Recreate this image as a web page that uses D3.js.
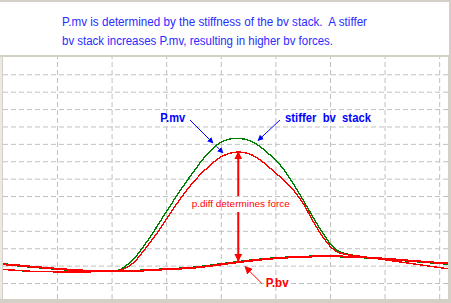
<!DOCTYPE html>
<html><head><meta charset="utf-8">
<script src="https://cdn.jsdelivr.net/npm/d3@7/dist/d3.min.js"></script>
<style>body{margin:0;background:#d4d0c8;overflow:hidden} text{white-space:pre}</style>
</head><body>
<script>
// ---- data (time ms, pressure) ----
const titleLines = ["P.mv is determined by the stiffness of the bv stack.  A stiffer",
                    "bv stack increases P.mv, resulting in higher bv forces."];
const xTicks = [50,100,150,200,250,300,350,400];
const yTicks = [10,20,30,40,50,60,70,80,90,100,110,120,130];

// stiffer bv stack: P.mv (green)
const stiffMv = [[0,17.8],[12,17.3],[26,16.6],[49,16.4],[76,16.4],[103,16.6],[108,17.5],[114,20.4],[120,23.2],[129,30.7],[138,38.8],[147,48.0],[156,56.6],[165,65.3],[175,73.9],[181,79.1],[187,83.8],[193,87.8],[199,90.8],[207,92.8],[214,93.4],[222,92.9],[230,91.0],[236,88.6],[241,85.9],[250,81.0],[257,76.1],[263,70.4],[270,63.5],[277,56.0],[286,46.1],[295,36.9],[303,30.2],[309,27.6],[316,26.5],[328,25.3],[346,23.8],[364,22.1],[387,20.1],[408,18.2]];
// P.mv (red)
const pMv = [[0,17.8],[16,17.2],[30,16.5],[53,16.4],[80,16.4],[106,16.6],[110,17.9],[117,19.8],[123,23.2],[132,30.7],[142,38.8],[151,47.4],[160,56.0],[169,63.6],[178,70.4],[186,75.3],[193,79.3],[199,82.3],[207,84.6],[216,85.6],[225,84.8],[233,82.3],[240,78.9],[247,75.0],[256,70.2],[265,64.8],[272,59.0],[277,54.4],[284,45.8],[293,36.6],[302,29.4],[309,27.0],[316,26.2],[328,25.3],[346,23.8],[364,22.1],[387,20.1],[408,18.2]];
// P.bv (red) and stiffer-stack P.bv (green)
const pBv = [[0,20.8],[16,20.1],[30,19.2],[44,18.5],[62,17.6],[80,16.9],[98,16.6],[117,16.6],[135,17.5],[163,18.2],[181,19.0],[199,20.6],[218,22.1],[236,23.5],[254,24.4],[272,25.1],[300,25.5],[327,25.0],[355,23.8],[382,22.4],[408,21.2]];
const stiffBv = [[0,21.0],[13,20.1],[27,19.2],[41,18.5],[59,17.6],[77,16.9],[95,16.6],[114,16.6],[132,17.5],[160,18.2],[178,19.0],[196,20.6],[215,22.1],[233,23.5],[251,24.4],[269,25.1],[297,25.5],[324,25.0],[352,23.8],[379,22.4],[408,21.0]];

// annotations (data coords)
const lblPmv = {t:144.5, p:102.6, text:"P.mv"};
const lblStiff = {t:258.8, p:102.6, text:"stiffer  bv  stack"};
const lblDiff = {t:173.4, p:53.7, text:"p.diff determines force"};
const lblPbv = {t:241.1, p:7.7, text:"P.bv"};

const W=451, H=303;
const svg = d3.select("body").append("svg").attr("width",W).attr("height",H);
svg.append("rect").attr("width",W).attr("height",H).attr("fill","#d4d0c8");
// top text panel
svg.append("rect").attr("x",0).attr("y",2).attr("width",449).attr("height",53).attr("fill","#fff");
// chart panel
const L=3,R=448,T=57,B=299;
svg.append("rect").attr("x",0).attr("y",T).attr("width",2).attr("height",B-T).attr("fill","#ebe9e4");
svg.append("rect").attr("x",L).attr("y",T).attr("width",R-L).attr("height",B-T).attr("fill","#fff");

svg.selectAll("text.title").data(titleLines).enter().append("text")
  .attr("class","title")
  .attr("x",62).attr("y",(d,i)=>26+i*18.5)
  .attr("font-family","Liberation Sans, Arial, sans-serif").attr("font-size",12)
  .attr("fill","#2b2bff")
  .attr("textLength",(d,i)=>i===0?305:271).attr("lengthAdjust","spacingAndGlyphs")
  .text(d=>d);

const x = d3.scaleLinear().domain([0,408]).range([2.4,447.9]);
const y = d3.scaleLinear().domain([0,140]).range([300.4,56.9]);

svg.append("defs").append("clipPath").attr("id","clip").append("rect")
  .attr("x",L).attr("y",T).attr("width",R-L).attr("height",B-T);
const g = svg.append("g").attr("clip-path","url(#clip)");

// grid through axes
const gx = g.append("g").attr("transform",`translate(0,${B})`)
  .call(d3.axisBottom(x).tickValues(xTicks).tickSize(-(B-T)).tickFormat(""));
const gy = g.append("g").attr("transform",`translate(${L},0)`)
  .call(d3.axisLeft(y).tickValues(yTicks).tickSize(-(R-L)).tickFormat(""));
[gx,gy].forEach(a=>{
  a.select(".domain").remove();
  a.selectAll("line").attr("stroke","#c0c0c0").attr("stroke-dasharray","5,3");
});

const line = d3.line().x(d=>x(d[0])).y(d=>y(d[1])).curve(d3.curveBasis);
function draw(data,color,w){
  g.append("path").datum(data).attr("d",line).attr("fill","none")
   .attr("stroke",color).attr("stroke-width",w).attr("shape-rendering","crispEdges");
}
draw(stiffBv,"#008000",2);
draw(stiffMv,"#008000",1.4);
draw(pMv,"#ff0000",1.4);
draw(pBv,"#ff0000",2);

// markers
const defs = svg.select("defs");
function marker(id,color,w,h){
  defs.append("marker").attr("id",id).attr("viewBox","0 0 10 10")
    .attr("refX",9).attr("refY",5).attr("markerUnits","userSpaceOnUse")
    .attr("markerWidth",w).attr("markerHeight",h).attr("orient","auto-start-reverse")
    .append("path").attr("d","M0,0L10,5L0,10z").attr("fill",color);
}
marker("ab","#0000ff",6,6);
marker("ar","#ff0000",8,8);

function arrow(a,b,color,w,mk,start){
  const p = svg.append("line").attr("x1",x(a[0])).attr("y1",y(a[1]))
    .attr("x2",x(b[0])).attr("y2",y(b[1])).attr("stroke",color).attr("stroke-width",w);
  if(start) p.attr("marker-start",`url(#${mk})`); else p.attr("marker-end",`url(#${mk})`);
  return p;
}
// blue arrows
arrow([171.8,103.7],[192.9,90.5],"#0000ff",1,"ab");
arrow([196.1,88.6],[202.0,84.8],"#0000ff",1,"ab");
arrow([254.2,103.7],[234.1,91.9],"#0000ff",1,"ab");
// red double arrow
arrow([216.0,85.3],[216.0,60.0],"#ff0000",2,"ar",true);
arrow([216.0,50.8],[216.0,22.7],"#ff0000",2,"ar");
// P.bv arrow
arrow([237.5,9.8],[222.2,19.4],"#ff0000",1,"ar");

function label(o,color,size,weight,len){
  svg.append("text").attr("x",x(o.t)).attr("y",y(o.p))
   .attr("font-family","Liberation Sans, Arial, sans-serif").attr("font-size",size)
   .attr("font-weight",weight).attr("fill",color)
   .attr("textLength",len).attr("lengthAdjust","spacingAndGlyphs").text(o.text);
}
label(lblPmv,"#0000ff",13,"bold",25);
label(lblStiff,"#0000ff",13,"bold",86);
label(lblDiff,"#ff0000",9.5,"normal",98);
label(lblPbv,"#ff0000",13,"bold",23);
</script>
</body></html>
